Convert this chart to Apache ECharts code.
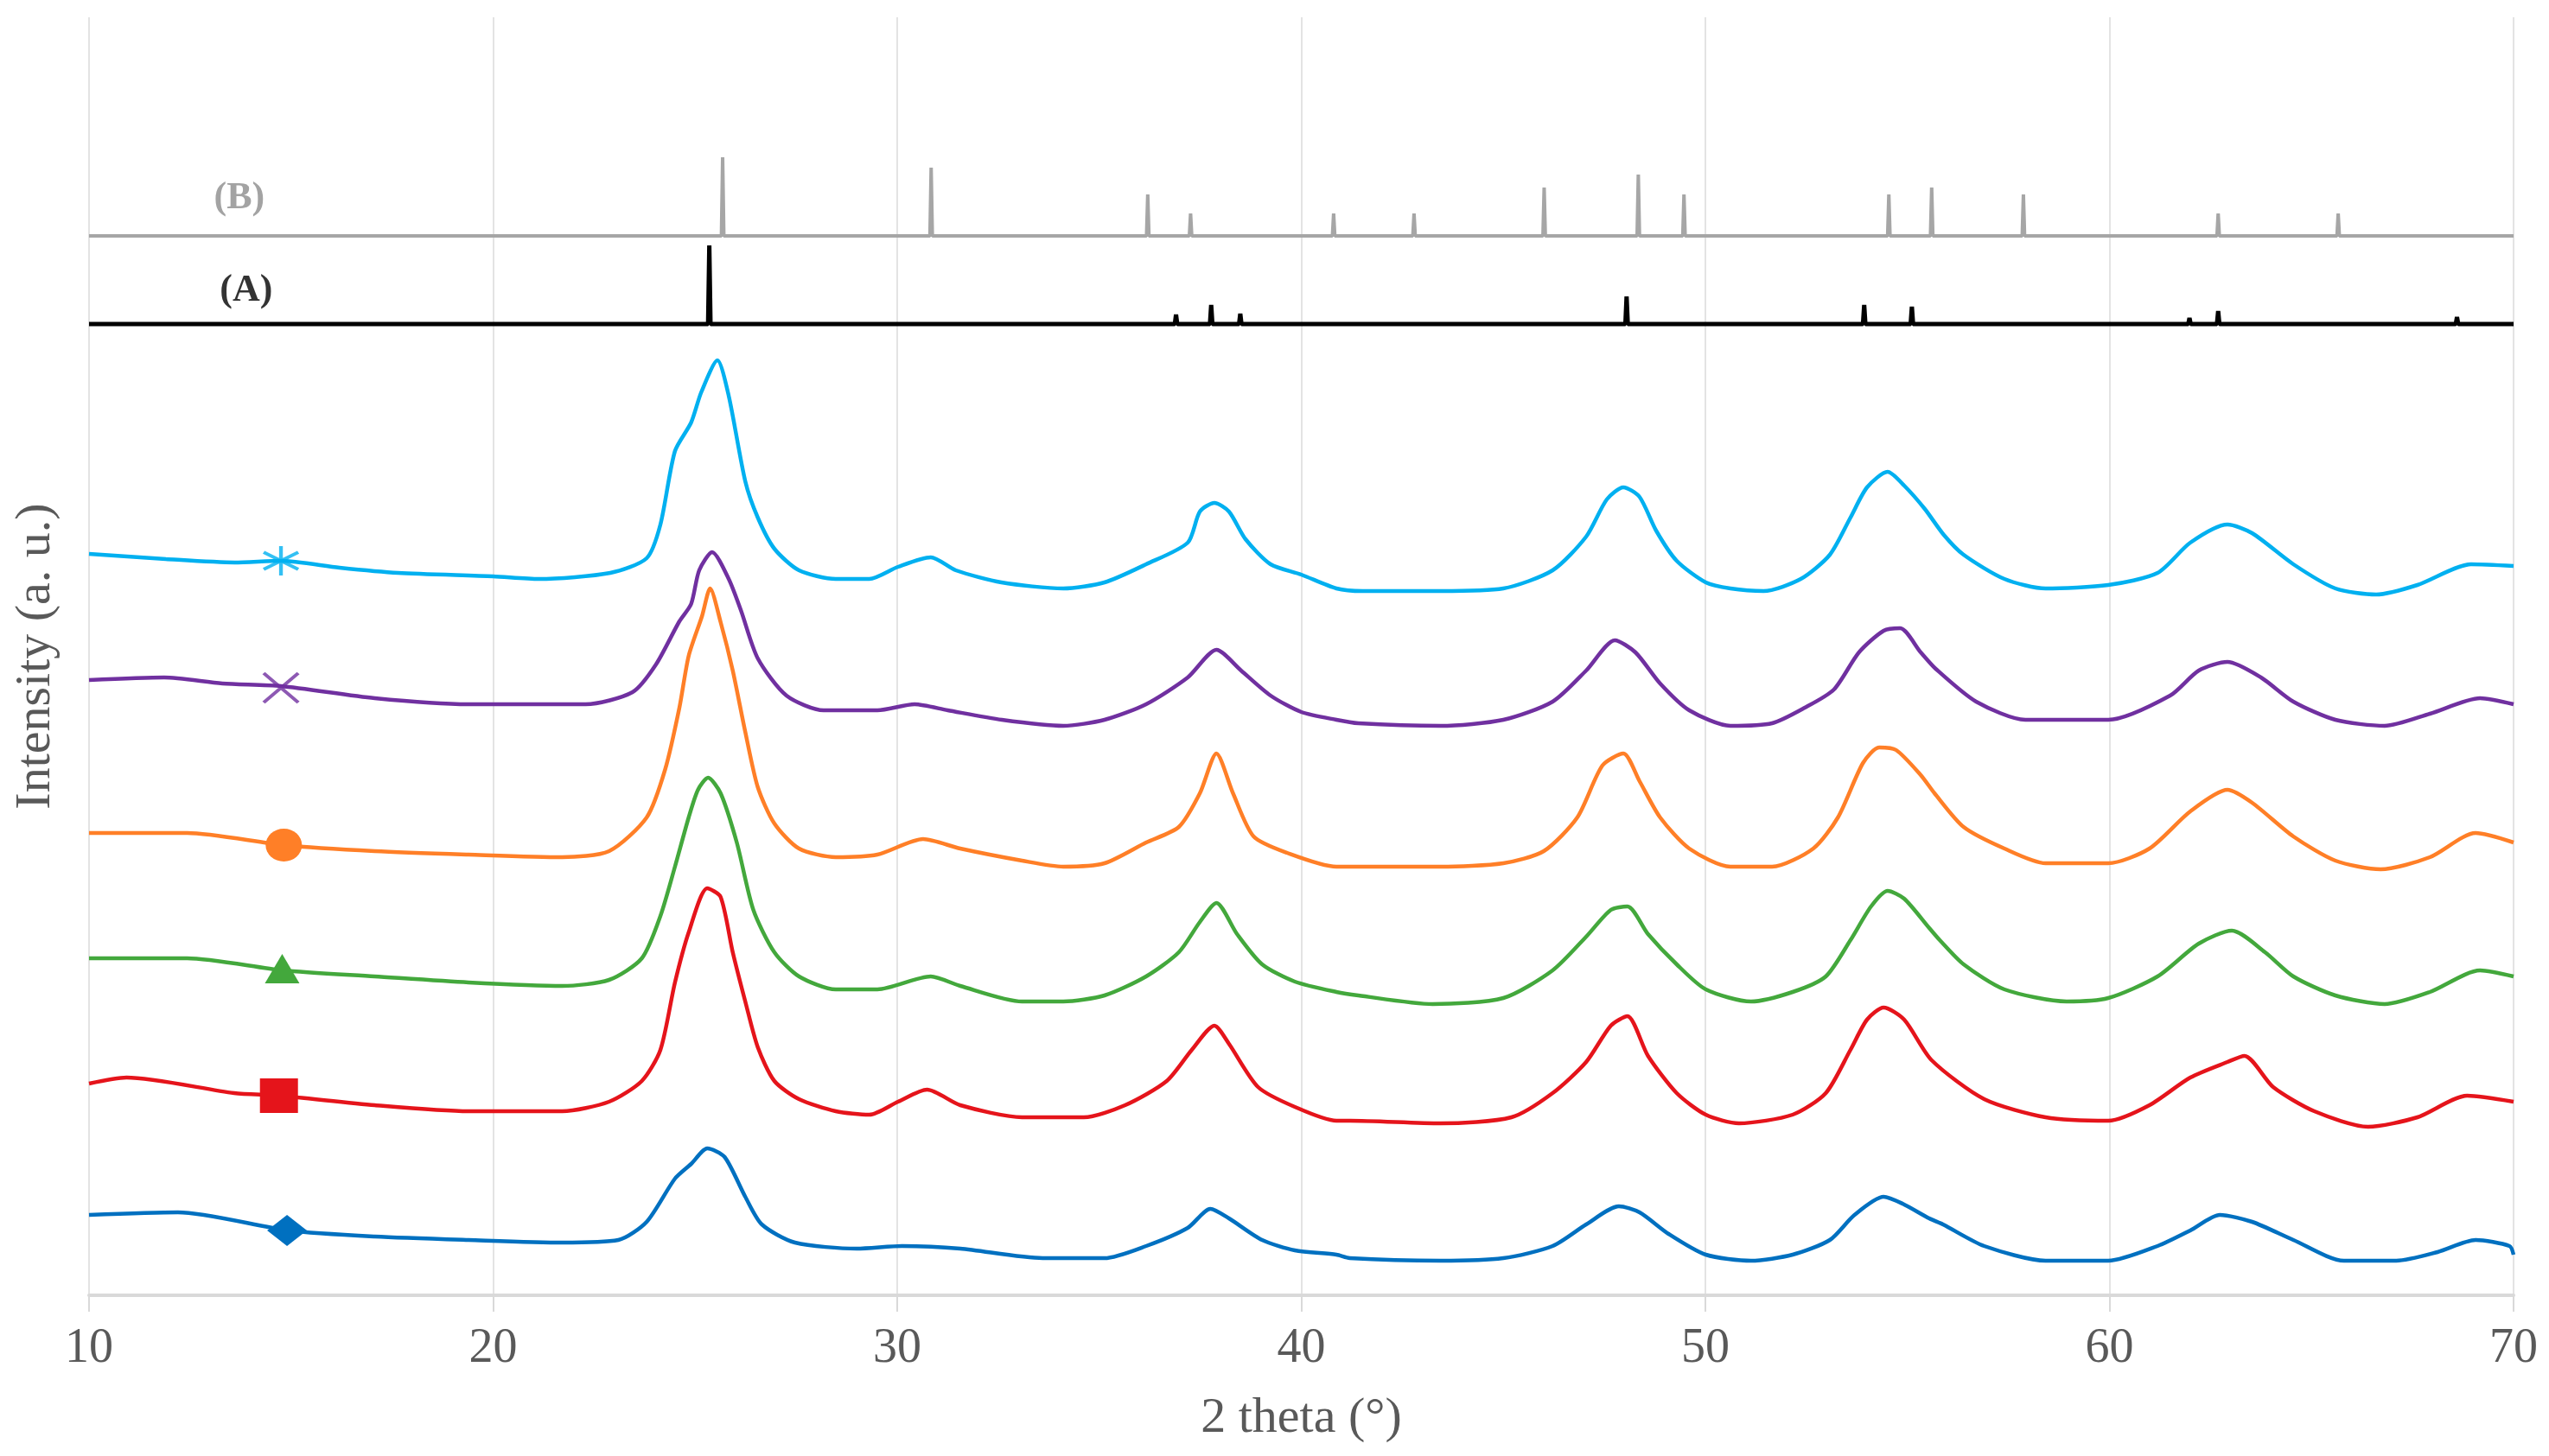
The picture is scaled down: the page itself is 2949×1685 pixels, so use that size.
<!DOCTYPE html>
<html>
<head>
<meta charset="utf-8">
<title>XRD</title>
<script src="https://cdn.jsdelivr.net/npm/echarts/dist/echarts.min.js"></script>
<style>
  html, body { margin: 0; padding: 0; background: #fff; }
  #chart { width: 2949px; height: 1685px; }
</style>
</head>
<body>
<div id="chart"></div>
<script>
// x axis ticks
var xTicks = [10, 20, 30, 40, 50, 60, 70];

// reference patterns (stick positions / heights above their baseline)
var baseB = 1226;
var stickPosB = [25.68, 30.84, 36.2, 37.26, 40.8, 42.79, 46.01, 48.34, 49.47, 54.54, 55.6, 57.87, 62.69, 65.66];
var stickHB = [91, 79, 48, 26, 26, 26, 56, 71, 48, 48, 56, 48, 26, 26];
var baseA = 1124;
var stickPosA = [25.35, 36.9, 37.77, 38.49, 48.05, 53.93, 55.11, 61.98, 62.69, 68.6];
var stickHA = [91, 11, 22, 12, 32, 22, 20, 7, 15, 8];

// measured patterns, [2theta, intensity]
var curveCyan = [[10,858],[11.9,852],[13.6,848],[14.75,850],[16.2,842],[17.65,836],[20,832],[21.13,829],[22.9,836],[23.8,853],[24.14,892],[24.5,977],[24.9,1010],[25.15,1045],[25.55,1082],[25.83,1041],[26.24,942],[26.55,900],[26.96,864],[27.57,839],[28.48,829],[29.31,829],[30.02,843],[30.83,854],[31.45,839],[32.58,825],[34.11,818],[35.13,825],[36.16,846],[37.19,871],[37.49,907],[37.85,917],[38.21,907],[38.62,875],[39.24,846],[40.0,834],[40.87,818],[41.52,815],[43.45,815],[45.0,818],[46.22,839],[47.05,878],[47.56,921],[47.97,935],[48.37,924],[48.78,885],[49.29,850],[50.01,825],[50.62,818],[51.44,815],[52.36,829],[53.08,857],[53.59,900],[54.0,935],[54.51,953],[54.92,937],[55.43,910],[55.9,880],[56.39,857],[57.4,829],[58.42,818],[59.97,822],[61.19,836],[62.0,871],[62.92,892],[63.53,882],[64.55,846],[65.59,818],[66.6,811],[67.62,822],[68.95,846],[70,844]];
var curvePurple = [[10,712],[11.86,715],[13.3,708],[14.75,705],[17.07,691],[19.39,684],[21.13,684],[22.29,684],[23.45,698],[24.03,730],[24.61,780],[24.9,800],[25.1,839],[25.42,860],[25.83,829],[26.13,793],[26.55,737],[27.26,694],[28.18,677],[29.51,677],[30.43,684],[31.25,677],[32.59,666],[34.11,659],[35.13,666],[36.16,684],[37.19,715],[37.9,747],[38.51,723],[39.24,694],[40.0,675],[40.87,666],[41.41,662],[43.45,659],[45.0,666],[46.22,687],[47.05,723],[47.76,758],[48.27,744],[48.88,708],[49.6,677],[50.62,659],[51.65,662],[52.46,680],[53.18,701],[53.8,744],[54.41,769],[54.82,772],[55.33,744],[55.7,725],[56.7,687],[57.92,666],[59.97,666],[61.5,694],[62.21,723],[62.92,733],[63.75,715],[64.55,687],[65.59,666],[66.81,659],[67.93,673],[69.17,691],[70,684]];
var curveOrange = [[10,535],[12.43,535],[14.81,521],[17.07,514],[19.39,510],[21.71,507],[22.87,514],[23.8,553],[24.26,609],[24.61,680],[24.84,740],[25.17,786],[25.37,818],[25.63,779],[25.93,723],[26.24,652],[26.55,588],[26.96,546],[27.57,517],[28.48,507],[29.51,510],[30.64,528],[31.56,517],[33.09,503],[34.11,496],[35.13,500],[36.16,524],[36.97,542],[37.49,581],[37.9,627],[38.31,581],[38.82,531],[39.65,512],[40.87,496],[41.41,496],[43.45,496],[45.0,500],[46.0,514],[46.83,553],[47.45,613],[47.97,627],[48.37,595],[48.88,553],[49.6,517],[50.62,496],[51.65,496],[52.67,517],[53.28,553],[53.9,616],[54.3,634],[54.72,631],[55.33,602],[55.67,581],[56.39,542],[57.4,517],[58.42,500],[59.97,500],[60.99,517],[62.0,560],[62.92,585],[63.53,570],[64.55,531],[65.59,503],[66.71,493],[67.93,507],[69.06,535],[70,524]];
var curveGreen = [[10,390],[12.43,390],[14.8,376],[17.07,369],[19.39,362],[21.71,358],[22.87,365],[23.68,390],[24.14,439],[24.5,496],[24.84,553],[25.07,585],[25.32,599],[25.63,581],[26.03,524],[26.44,446],[26.96,397],[27.57,369],[28.48,354],[29.51,354],[30.83,369],[31.56,358],[33.09,340],[34.11,340],[35.13,347],[36.16,369],[36.97,397],[37.49,432],[37.9,454],[38.41,418],[39.03,383],[39.84,363],[40.87,351],[41.41,347],[43.25,337],[45.0,344],[46.22,376],[47.05,415],[47.66,446],[48.07,450],[48.58,418],[49.29,383],[50.01,354],[51.13,340],[52.16,351],[52.98,369],[53.59,411],[54.1,450],[54.51,468],[54.92,459],[55.54,425],[55.8,411],[56.39,383],[57.4,354],[58.94,340],[59.97,344],[61.19,369],[62.21,407],[63.03,422],[63.85,397],[64.55,369],[65.59,347],[66.81,337],[67.93,351],[69.17,376],[70,369]];
var curveRed = [[10,245],[10.93,252],[13.59,234],[14.7,231],[17.07,220],[19.39,213],[21.71,213],[22.87,224],[23.68,248],[24.14,284],[24.5,362],[24.84,420],[25.3,471],[25.63,461],[25.93,397],[26.24,340],[26.55,287],[26.96,248],[27.57,227],[28.48,213],[29.31,209],[30.02,224],[30.74,238],[31.56,220],[33.09,206],[34.62,206],[35.64,220],[36.67,248],[37.29,284],[37.85,312],[38.21,291],[38.93,241],[39.84,218],[40.87,202],[41.21,202],[43.45,199],[45.2,206],[46.22,234],[47.05,270],[47.66,312],[48.07,323],[48.58,277],[49.29,234],[50.01,209],[50.83,199],[52.16,209],[52.98,234],[53.59,284],[54.0,319],[54.41,333],[54.92,319],[55.6,272],[56.9,227],[58.42,206],[59.97,202],[60.99,220],[62.0,252],[62.92,270],[63.34,277],[64.05,241],[65.07,213],[66.4,195],[67.62,206],[68.85,231],[70,224]];
var curveBlue = [[10,93],[12.2,96],[14.93,75],[17.07,68],[19.39,64],[21.71,61],[23.1,64],[23.8,85],[24.5,135],[24.9,152],[25.3,170],[25.73,160],[26.24,114],[26.65,82],[27.47,61],[29.0,54],[30.12,57],[31.56,54],[33.6,43],[35.13,43],[36.16,57],[37.19,78],[37.75,100],[38.21,89],[39.03,64],[39.84,52],[40.87,47],[41.2,43],[43.45,40],[45.0,43],[46.22,57],[47.05,82],[47.86,103],[48.37,96],[49.09,71],[50.01,47],[51.13,40],[52.16,47],[53.08,64],[53.69,93],[54.41,114],[54.88,106],[55.54,89],[55.88,82],[56.9,57],[58.42,40],[59.97,40],[61.19,57],[62.0,75],[62.73,93],[63.53,85],[64.55,64],[65.8,40],[67.1,40],[68.12,50],[69.06,64],[69.9,57],[70,47]];

// one marker per curve
var markerCyan = [14.75, 850];
var markerPurple = [14.75, 703];
var markerOrange = [14.82, 521];
var markerGreen = [14.78, 378];
var markerRed = [14.7, 231];
var markerBlue = [14.9, 75];

// pattern labels
var labelB = [13.72, 1269, '(B)'];
var labelA = [13.89, 1162, '(A)'];

var font = 'Liberation Serif';
var gray = '#595959';

// stick pattern -> line through the baseline
function sticks(base, pos, h) {
    var d = [[10, base]];
    for (var i = 0; i < pos.length; i++) {
        d.push([pos[i] - 0.03, base]);
        d.push([pos[i], base + h[i]]);
        d.push([pos[i] + 0.03, base]);
    }
    d.push([70, base]);
    return d;
}

function curve(name, data, color) {
    return {
        name: name, type: 'line', data: data, showSymbol: false, symbol: 'none',
        smooth: 0.25,
        lineStyle: { color: color, width: 4.5 }, z: 3
    };
}

function marker(data, color, symbol, size, hollow) {
    return {
        type: 'scatter', data: [data], symbol: symbol, symbolSize: size, z: 4,
        itemStyle: hollow
            ? { color: 'rgba(0,0,0,0)', borderColor: color, borderWidth: 4 }
            : { color: color, opacity: 1 }
    };
}

function textMark(data, color) {
    return {
        type: 'scatter', data: [data], symbolSize: 0, z: 5,
        label: {
            show: true, position: 'inside', formatter: function (p) { return p.data[2]; },
            color: color, fontFamily: font, fontWeight: 'bold', fontSize: 44
        }
    };
}

var asterisk = 'path://M0,-10L0,10M-10,-5.8L10,5.8M-10,5.8L10,-5.8';
var cross = 'path://M-10,-8L10,8M-10,8L10,-8';

var chart = echarts.init(document.getElementById('chart'));
var option = {
    animation: false,
    grid: { left: 103, right: 41, top: 20, bottom: 186 },
    xAxis: {
        type: 'value', min: xTicks[0], max: xTicks[xTicks.length - 1], interval: 10,
        name: '2 theta (°)', nameLocation: 'middle', nameGap: 114,
        nameTextStyle: { color: gray, fontFamily: font, fontSize: 58 },
        axisLine: { lineStyle: { color: '#d9d9d9', width: 4 } },
        axisTick: { show: true, length: 19, lineStyle: { color: '#d9d9d9', width: 2 } },
        axisLabel: { color: gray, fontFamily: font, fontSize: 56, margin: 34 },
        splitLine: { show: true, lineStyle: { color: '#e3e3e3', width: 2 } }
    },
    yAxis: {
        type: 'value', min: 0, max: 1479,
        name: 'Intensity (a. u.)', nameLocation: 'middle', nameGap: 32,
        nameTextStyle: { color: gray, fontFamily: font, fontSize: 58 },
        axisLine: { show: false }, axisTick: { show: false },
        axisLabel: { show: false }, splitLine: { show: false }
    },
    series: [
        { type: 'line', data: sticks(baseB, stickPosB, stickHB), symbol: 'none',
          lineStyle: { color: '#a6a6a6', width: 4, join: 'bevel' }, z: 2 },
        { type: 'line', data: sticks(baseA, stickPosA, stickHA), symbol: 'none',
          lineStyle: { color: '#000000', width: 5, join: 'bevel' }, z: 2 },
        textMark(labelB, '#8c8c8c'),
        textMark(labelA, '#000000'),
        curve('S6', curveCyan, '#00b0f0'),
        curve('S5', curvePurple, '#7030a0'),
        curve('S4', curveOrange, '#ff7f27'),
        curve('S3', curveGreen, '#43a83c'),
        curve('S2', curveRed, '#e5141b'),
        curve('S1', curveBlue, '#0070c0'),
        marker(markerCyan, '#00b0f0', asterisk, [40, 34], true),
        marker(markerPurple, '#7030a0', cross, [40, 34], true),
        marker(markerOrange, '#ff7f27', 'circle', [42, 38], false),
        marker(markerGreen, '#43a83c', 'triangle', [40, 34], false),
        marker(markerRed, '#e5141b', 'rect', [44, 40], false),
        marker(markerBlue, '#0070c0', 'diamond', [46, 36], false)
    ]
};
chart.setOption(option);
</script>
</body>
</html>
